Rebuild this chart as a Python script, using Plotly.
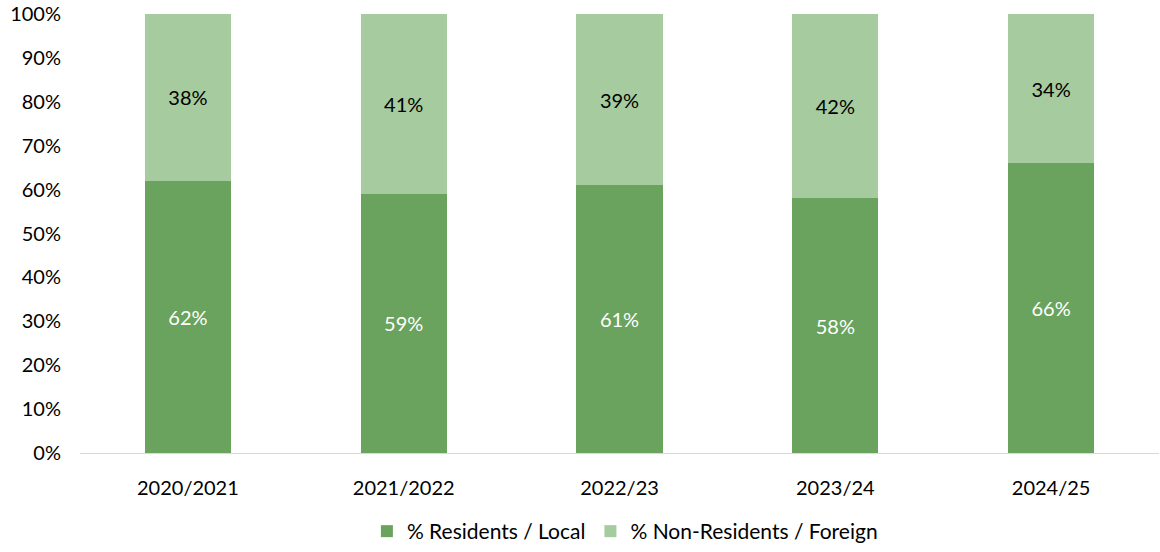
import plotly.graph_objects as go

# Share of visitors by residence, per season
seasons = ["2020/2021", "2021/2022", "2022/23", "2023/24", "2024/25"]
residents = [62, 59, 61, 58, 66]
non_residents = [38, 41, 39, 42, 34]
y_ticks = list(range(0, 101, 10))

DARK = "#6aa35d"
LIGHT = "#a6cb9e"
FONT = "Lato, Carlito, 'Liberation Sans', sans-serif"

fig = go.Figure()
fig.add_trace(go.Bar(
    x=seasons, y=residents, name="% Residents / Local",
    marker=dict(color=DARK, line=dict(width=0)),
    text=[f"{v}%" for v in residents], textposition="inside",
    insidetextanchor="middle", textfont=dict(color="white", size=20, family=FONT),
))
fig.add_trace(go.Bar(
    x=seasons, y=non_residents, name="% Non-Residents / Foreign",
    marker=dict(color=LIGHT, line=dict(width=0)),
    text=[f"{v}%" for v in non_residents], textposition="inside",
    insidetextanchor="middle", textfont=dict(color="black", size=20, family=FONT),
))

fig.update_layout(
    barmode="stack",
    bargap=0.6,
    width=1160, height=552,
    margin=dict(l=80, r=1, t=14, b=99, autoexpand=False),
    paper_bgcolor="white", plot_bgcolor="white",
    font=dict(family=FONT, size=20, color="black"),
    uniformtext=dict(mode=False),
    legend=dict(
        orientation="h", x=0.505, xanchor="center",
        yref="container", y=-0.015, yanchor="bottom",
        font=dict(size=21), traceorder="normal", itemwidth=30,
    ),
    xaxis=dict(
        showline=True, linecolor="#d9d9d9", linewidth=1,
        ticks="", showgrid=False, ticklabelstandoff=17,
    ),
    yaxis=dict(
        range=[0, 100], tickvals=y_ticks,
        ticktext=[f"{v}%" for v in y_ticks],
        showgrid=False, zeroline=False, showline=False, ticks="",
        ticklabelstandoff=18,
    ),
)

fig.write_html("out.html")
